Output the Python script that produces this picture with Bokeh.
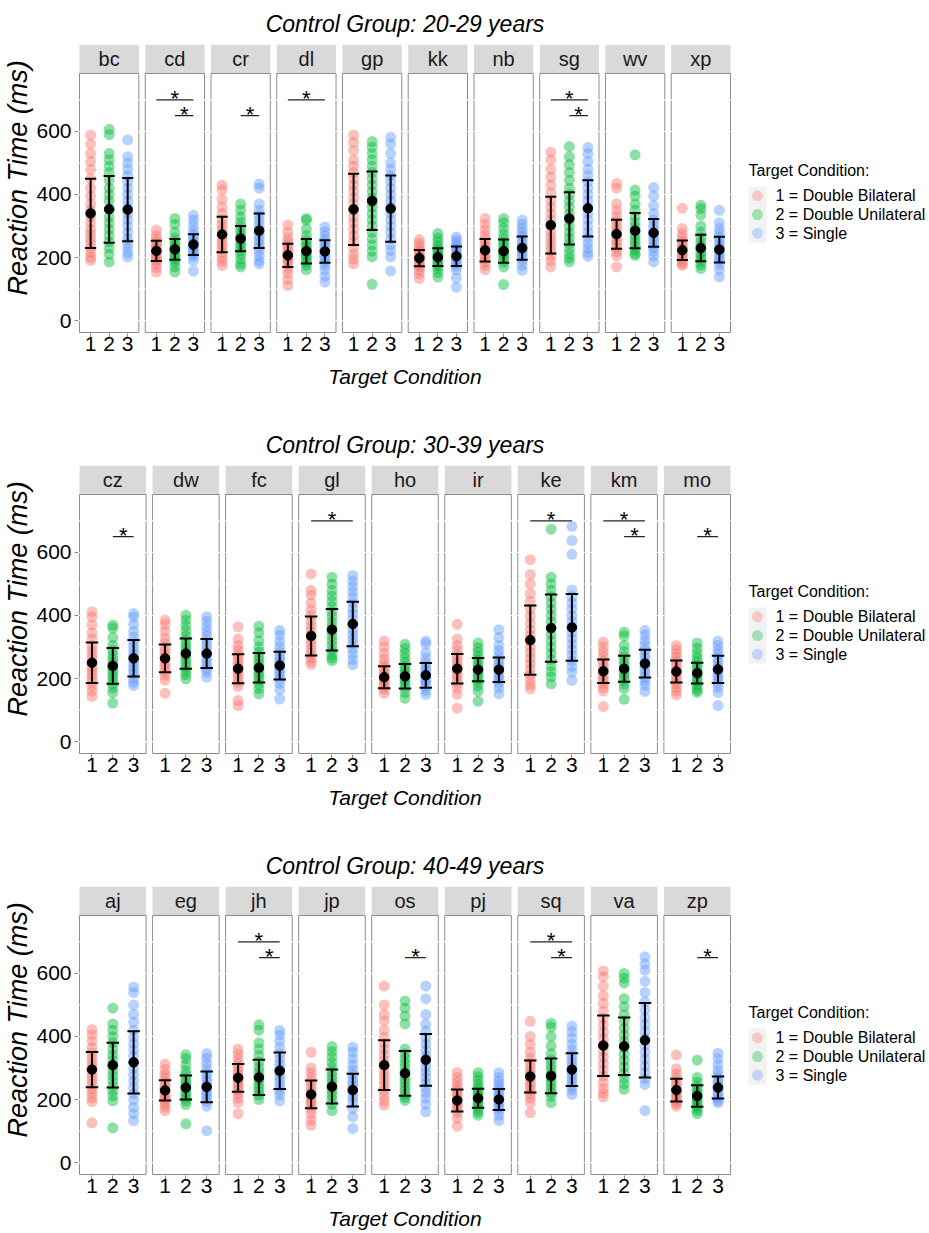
from bokeh.plotting import figure
from bokeh.layouts import column, row
from bokeh.models import Range1d, FixedTicker, CustomJSTickFormatter, Title
from bokeh.core.properties import value
from bokeh.embed import file_html
from bokeh.resources import INLINE

FONT = "Liberation Sans"
COND_COLORS = ["#F8766D", "#00BA38", "#619CFF"]
COND_LABELS = ["1 = Double Bilateral", "2 = Double Unilateral", "3 = Single"]
LEGEND_TITLE = "Target Condition:"
X_TITLE = "Target Condition"
Y_TITLE = "Reaction Time (ms)"
Y_TICKS = [0, 200, 400, 600]

# ---------------- 20-29 years ----------------
title_20s = "Control Group: 20-29 years"
facets_20s = ["bc", "cd", "cr", "dl", "gp", "kk", "nb", "sg", "wv", "xp"]
mean_20s = [[340, 353, 352], [221, 226, 241], [273, 260, 285], [207, 220, 219], [353, 380, 355],
            [198, 201, 204], [223, 220, 230], [303, 324, 356], [274, 285, 278], [223, 230, 225]]
sd_20s = [[110, 106, 100], [32, 33, 33], [56, 40, 55], [37, 39, 36], [113, 93, 105],
          [26, 28, 31], [36, 37, 37], [90, 83, 89], [46, 56, 44], [31, 42, 41]]
pts_20s = {
    "bc": [[589, 560, 530, 505, 480, 450, 420, 395, 370, 350, 330, 310, 290, 275, 260, 245, 230, 215, 200, 191],
           [607, 590, 530, 510, 490, 470, 445, 420, 400, 380, 355, 330, 310, 290, 270, 250, 230, 210, 186],
           [573, 520, 500, 480, 460, 440, 420, 400, 380, 360, 340, 320, 300, 280, 260, 245, 230, 215, 202]],
    "cd": [[287, 270, 258, 248, 240, 232, 225, 218, 212, 205, 198, 190, 180, 168, 154],
           [324, 305, 280, 262, 250, 240, 232, 225, 218, 210, 202, 194, 185, 170, 154],
           [334, 318, 300, 285, 272, 262, 252, 244, 236, 228, 220, 212, 204, 190, 157]],
    "cr": [[430, 415, 385, 360, 340, 320, 305, 290, 278, 265, 252, 240, 228, 215, 200, 188, 175],
           [370, 350, 330, 312, 298, 285, 272, 262, 252, 242, 232, 222, 210, 195, 180, 170],
           [433, 420, 370, 350, 335, 320, 305, 292, 280, 268, 256, 244, 232, 220, 205, 190, 180]],
    "dl": [[303, 280, 262, 250, 240, 230, 220, 212, 204, 196, 188, 178, 165, 150, 130, 111],
           [324, 318, 290, 270, 255, 245, 235, 226, 218, 210, 202, 194, 185, 175, 161],
           [297, 282, 268, 256, 246, 236, 228, 220, 212, 204, 196, 186, 175, 160, 140, 122]],
    "gp": [[589, 565, 540, 510, 490, 470, 450, 430, 410, 390, 370, 350, 330, 310, 290, 270, 250, 230, 210, 195, 180],
           [568, 550, 530, 510, 490, 470, 450, 430, 410, 390, 375, 360, 340, 320, 300, 280, 260, 240, 220, 202, 115],
           [582, 560, 530, 500, 480, 460, 440, 420, 400, 380, 360, 340, 320, 300, 280, 260, 240, 222, 202, 157]],
    "kk": [[257, 245, 235, 225, 218, 210, 204, 198, 192, 186, 178, 170, 160, 148, 133],
           [276, 262, 250, 238, 228, 220, 212, 205, 198, 190, 182, 174, 165, 152, 138],
           [265, 255, 245, 236, 228, 220, 212, 205, 198, 190, 182, 172, 160, 135, 106]],
    "nb": [[324, 305, 288, 272, 258, 246, 236, 228, 220, 212, 204, 196, 186, 175, 161],
           [324, 310, 292, 275, 260, 248, 238, 228, 220, 212, 204, 195, 185, 170, 114],
           [319, 305, 292, 280, 268, 256, 246, 236, 228, 220, 212, 202, 190, 175, 159]],
    "sg": [[534, 510, 480, 455, 430, 405, 380, 360, 340, 320, 300, 282, 265, 250, 235, 220, 205, 190, 170],
           [552, 520, 495, 470, 445, 420, 400, 380, 360, 340, 320, 300, 280, 262, 245, 228, 212, 198, 186],
           [549, 530, 505, 480, 460, 440, 420, 400, 380, 360, 340, 320, 300, 280, 262, 245, 230, 215, 204]],
    "wv": [[435, 420, 370, 350, 332, 316, 302, 290, 278, 266, 254, 242, 230, 218, 205, 170],
           [526, 414, 395, 370, 350, 330, 312, 298, 285, 272, 260, 248, 236, 224, 212, 207],
           [422, 395, 365, 340, 320, 305, 292, 280, 268, 256, 244, 232, 220, 205, 186]],
    "xp": [[356, 292, 275, 262, 250, 240, 232, 225, 218, 211, 204, 196, 188, 180, 175],
           [366, 355, 335, 300, 280, 264, 250, 238, 228, 218, 208, 198, 188, 176, 165],
           [350, 310, 292, 278, 264, 252, 240, 230, 220, 210, 200, 190, 178, 160, 138]],
}
sig_20s = [("cd", 1, 3, 700), ("cd", 2, 3, 650), ("cr", 2, 3, 650), ("dl", 1, 3, 700),
           ("sg", 1, 3, 700), ("sg", 2, 3, 650)]

# ---------------- 30-39 years ----------------
title_30s = "Control Group: 30-39 years"
facets_30s = ["cz", "dw", "fc", "gl", "ho", "ir", "ke", "km", "mo"]
mean_30s = [[250, 240, 264], [264, 279, 279], [231, 234, 241], [335, 355, 373], [204, 207, 210],
            [231, 228, 228], [322, 360, 362], [223, 231, 247], [222, 217, 229]]
sd_30s = [[64, 57, 58], [44, 48, 46], [46, 47, 44], [62, 66, 71], [35, 39, 39],
          [47, 37, 39], [110, 107, 106], [37, 41, 44], [35, 33, 43]]
pts_30s = {
    "cz": [[412, 395, 370, 345, 325, 305, 290, 276, 262, 250, 238, 226, 214, 202, 190, 175, 160, 143],
           [369, 360, 330, 305, 290, 275, 262, 250, 240, 230, 220, 208, 196, 184, 170, 155, 122],
           [406, 395, 372, 350, 332, 316, 302, 288, 275, 262, 250, 238, 226, 214, 200, 188, 178]],
    "dw": [[385, 372, 350, 328, 312, 298, 286, 275, 264, 254, 244, 234, 222, 210, 195, 153],
           [401, 385, 368, 352, 336, 322, 308, 296, 284, 272, 260, 248, 236, 224, 212, 199],
           [396, 382, 365, 350, 335, 320, 306, 293, 280, 268, 256, 244, 232, 220, 204]],
    "fc": [[364, 325, 305, 290, 276, 264, 252, 242, 232, 222, 212, 200, 188, 175, 130, 114],
           [366, 345, 320, 300, 284, 270, 258, 246, 236, 226, 216, 206, 195, 182, 168, 151],
           [353, 338, 318, 300, 285, 272, 260, 250, 240, 230, 220, 210, 198, 184, 165, 135]],
    "gl": [[532, 480, 465, 440, 418, 400, 382, 366, 350, 336, 322, 308, 294, 280, 266, 255, 245],
           [521, 500, 480, 462, 445, 428, 412, 396, 380, 365, 350, 335, 320, 305, 290, 276, 265, 257],
           [527, 510, 492, 475, 458, 440, 422, 405, 388, 372, 356, 340, 325, 310, 295, 278, 260, 244]],
    "ho": [[319, 300, 280, 262, 248, 236, 226, 216, 208, 200, 192, 184, 175, 165, 153],
           [309, 295, 280, 265, 252, 240, 230, 220, 210, 200, 192, 182, 170, 155, 137],
           [319, 310, 282, 265, 250, 238, 228, 218, 210, 202, 194, 185, 175, 162, 149]],
    "ir": [[372, 325, 305, 290, 275, 262, 250, 240, 230, 220, 210, 198, 185, 170, 150, 106],
           [313, 298, 285, 272, 260, 248, 238, 228, 218, 208, 198, 188, 176, 160, 128],
           [355, 330, 305, 288, 272, 258, 246, 236, 226, 216, 206, 196, 185, 170, 151]],
    "ke": [[577, 530, 500, 470, 445, 420, 398, 376, 355, 336, 318, 300, 282, 265, 248, 230, 212, 195, 180, 167],
           [674, 521, 500, 480, 460, 440, 420, 400, 380, 360, 340, 320, 300, 280, 260, 240, 222, 205, 183],
           [683, 638, 594, 481, 460, 440, 420, 400, 382, 364, 346, 328, 310, 292, 274, 256, 238, 220, 194]],
    "km": [[316, 300, 284, 270, 256, 244, 234, 224, 214, 204, 194, 184, 172, 160, 111],
           [347, 335, 305, 285, 270, 256, 244, 234, 224, 214, 204, 194, 182, 168, 134],
           [353, 338, 320, 305, 290, 276, 264, 252, 240, 228, 216, 204, 192, 178, 159]],
    "mo": [[305, 292, 280, 268, 256, 245, 234, 224, 214, 204, 194, 184, 172, 160, 148],
           [313, 296, 280, 266, 254, 242, 232, 222, 212, 202, 192, 182, 172, 162, 156],
           [319, 305, 290, 276, 262, 250, 238, 228, 218, 208, 198, 186, 172, 155, 114]],
}
sig_30s = [("cz", 2, 3, 650), ("gl", 1, 3, 700), ("ke", 1, 3, 700), ("km", 1, 3, 700),
           ("km", 2, 3, 650), ("mo", 2, 3, 650)]

# ---------------- 40-49 years ----------------
title_40s = "Control Group: 40-49 years"
facets_40s = ["aj", "eg", "jh", "jp", "os", "pj", "sq", "va", "zp"]
mean_40s = [[295, 309, 318], [229, 238, 240], [269, 270, 291], [216, 241, 230], [309, 283, 326],
            [197, 204, 200], [273, 275, 295], [371, 369, 388], [230, 211, 238]]
sd_40s = [[56, 71, 99], [32, 38, 49], [44, 56, 58], [44, 54, 52], [79, 71, 82],
          [35, 30, 33], [51, 55, 52], [96, 91, 118], [36, 34, 35]]
pts_40s = {
    "aj": [[422, 405, 385, 365, 348, 332, 318, 304, 290, 276, 262, 248, 234, 220, 206, 193, 126],
           [490, 440, 420, 400, 380, 360, 342, 325, 308, 292, 276, 260, 244, 228, 212, 196, 110],
           [557, 540, 500, 470, 445, 420, 398, 378, 358, 338, 318, 298, 278, 258, 238, 218, 198, 175, 155, 133]],
    "eg": [[312, 295, 280, 268, 256, 246, 236, 228, 220, 212, 204, 196, 186, 176, 165],
           [342, 330, 310, 292, 278, 266, 255, 245, 235, 225, 215, 205, 195, 184, 123],
           [346, 332, 315, 298, 284, 270, 258, 246, 236, 226, 216, 205, 194, 179, 101]],
    "jh": [[360, 345, 330, 315, 302, 290, 280, 270, 260, 250, 240, 230, 218, 205, 190, 155],
           [437, 420, 380, 360, 340, 320, 302, 288, 274, 262, 250, 238, 226, 214, 200],
           [419, 405, 385, 365, 345, 328, 312, 298, 284, 270, 256, 242, 228, 214, 195]],
    "jp": [[350, 300, 285, 270, 256, 244, 232, 222, 212, 202, 192, 182, 170, 155, 135, 118],
           [368, 352, 335, 318, 302, 288, 274, 262, 250, 238, 226, 214, 200, 185, 165],
           [366, 350, 330, 310, 294, 280, 266, 254, 242, 230, 218, 205, 190, 170, 145, 108]],
    "os": [[560, 500, 470, 450, 420, 398, 378, 360, 342, 325, 308, 292, 276, 260, 244, 228, 212, 196, 182],
           [513, 490, 465, 440, 360, 345, 330, 316, 302, 288, 276, 264, 252, 240, 228, 216, 206, 197],
           [560, 520, 470, 440, 418, 396, 376, 356, 338, 320, 302, 286, 270, 254, 238, 222, 205, 185, 161]],
    "pj": [[286, 270, 256, 244, 232, 222, 212, 204, 196, 188, 180, 170, 158, 140, 115],
           [285, 272, 260, 248, 238, 228, 220, 212, 204, 196, 188, 180, 170, 160, 150],
           [285, 270, 258, 246, 236, 226, 216, 208, 200, 192, 184, 175, 165, 150, 133]],
    "sq": [[448, 400, 375, 350, 332, 316, 302, 290, 278, 266, 254, 242, 230, 218, 205, 190, 158],
           [442, 430, 400, 370, 345, 325, 310, 296, 282, 270, 258, 246, 234, 222, 210, 190],
           [433, 415, 395, 375, 358, 342, 328, 315, 302, 290, 278, 266, 254, 242, 230, 216]],
    "va": [[608, 590, 560, 530, 505, 480, 458, 436, 414, 394, 374, 354, 334, 314, 294, 274, 254, 235, 220, 208],
           [600, 585, 570, 520, 495, 470, 448, 426, 404, 384, 364, 344, 324, 304, 284, 266, 250, 232],
           [653, 630, 610, 575, 540, 510, 485, 460, 438, 416, 394, 372, 350, 328, 306, 286, 266, 248, 165]],
    "zp": [[341, 298, 282, 268, 256, 245, 235, 226, 218, 210, 202, 194, 186, 179],
           [325, 270, 255, 242, 232, 222, 214, 206, 198, 190, 182, 174, 165, 155],
           [347, 330, 310, 292, 278, 266, 255, 245, 235, 225, 215, 205, 196, 190]],
}
sig_40s = [("jh", 1, 3, 700), ("jh", 2, 3, 650), ("os", 2, 3, 650), ("sq", 1, 3, 700),
           ("sq", 2, 3, 650), ("zp", 2, 3, 650)]

# ---------------- layout constants ----------------
FRAME_W = 653       # px, facets span 651 px plus 1 px padding each side
FRAME_H = 289       # strip (29 px) + panel (259 px) + 1 px padding
LEFT = 77
TOP = 44
GAP = 6.43
Y_LO, Y_HI = -38.0, 784.0       # panel y-limits (ggplot expansion)
UPX = (Y_HI - Y_LO) / 259.0      # data units per pixel
STRIP_TOP = Y_HI + 29 * UPX
LEG_W = 929 - LEFT - FRAME_W
BORDER_COL = "#8C8C8C"


def make_panel(title, facets, means, sds, pts, sigs, bottom):
    n = len(facets)
    w = (651 - (n - 1) * GAP) / n
    u = w / 3.2
    P = (w + GAP) / u

    p = figure(frame_width=FRAME_W, frame_height=FRAME_H,
               min_border_left=LEFT, min_border_right=0, min_border_top=TOP, min_border_bottom=bottom,
               x_range=Range1d(0.4 - 1 / u, 0.4 + 652 / u),
               y_range=Range1d(Y_LO - UPX, STRIP_TOP),
               output_backend="svg", toolbar_location=None)
    p.outline_line_color = None
    p.xgrid.visible = False
    p.ygrid.visible = False
    p.background_fill_color = "white"
    p.border_fill_color = "white"

    p.title.text = title
    p.title.align = "center"
    p.title.text_font = FONT
    p.title.text_font_size = "23px"
    p.title.text_font_style = "italic"
    p.title.text_color = "black"
    p.title.standoff = 15

    lefts = [k * P + 0.4 for k in range(n)]
    rights = [k * P + 3.6 for k in range(n)]
    centers = [k * P + 2 for k in range(n)]

    # panel borders
    p.quad(left=lefts, right=rights, bottom=Y_LO, top=Y_HI, fill_color=None,
           line_color=BORDER_COL, line_width=1)
    # white grid lines (visible as breaks in the border)
    gx0, gx1, gy = [], [], []
    for k in range(n):
        for g in range(0, 800, 100):
            gx0.append(lefts[k] - 0.05)
            gx1.append(rights[k] + 0.05)
            gy.append(g)
    p.segment(x0=gx0, x1=gx1, y0=gy, y1=gy, line_color="white", line_width=1.2)

    # strips
    p.quad(left=lefts, right=rights, bottom=Y_HI + UPX * 0.4, top=STRIP_TOP, fill_color="#D9D9D9", line_color=None)
    p.text(x=centers, y=[(Y_HI + STRIP_TOP) / 2] * n, text=facets, text_font=value(FONT),
           text_font_size="20px", text_color="#1A1A1A", text_align="center", text_baseline="middle")

    # points
    for c in range(3):
        xs, ys = [], []
        for k, f in enumerate(facets):
            for v in pts[f][c]:
                xs.append(k * P + c + 1)
                ys.append(v)
        p.scatter(x=xs, y=ys, size=11, fill_color=COND_COLORS[c], fill_alpha=0.45, line_color=None)

    # error bars and means
    mx, my, lo, hi = [], [], [], []
    for k in range(n):
        for c in range(3):
            mx.append(k * P + c + 1)
            my.append(means[k][c])
            lo.append(means[k][c] - sds[k][c])
            hi.append(means[k][c] + sds[k][c])
    cap = 0.3
    p.segment(x0=mx, x1=mx, y0=lo, y1=hi, line_color="black", line_width=2)
    p.segment(x0=[x - cap for x in mx], x1=[x + cap for x in mx], y0=lo, y1=lo, line_color="black", line_width=2)
    p.segment(x0=[x - cap for x in mx], x1=[x + cap for x in mx], y0=hi, y1=hi, line_color="black", line_width=2)
    p.scatter(x=mx, y=my, size=9.5, fill_color="black", line_color="black")

    # significance bars
    sx0, sx1, sy, smid = [], [], [], []
    for f, a, b, yv in sigs:
        k = facets.index(f)
        sx0.append(k * P + a)
        sx1.append(k * P + b)
        sy.append(yv)
        smid.append(k * P + (a + b) / 2)
    p.segment(x0=sx0, x1=sx1, y0=sy, y1=sy, line_color="#222222", line_width=1.2)
    p.text(x=smid, y=sy, text=["*"] * len(sy), text_font=value(FONT), text_font_size="22px",
           text_color="black", text_align="center", text_baseline="alphabetic", y_offset=-1)

    # axes
    xt = [k * P + c for k in range(n) for c in (1, 2, 3)]
    p.xaxis.ticker = FixedTicker(ticks=xt)
    p.xaxis.formatter = CustomJSTickFormatter(args=dict(P=P),
        code="const k = Math.floor(tick / P); return String(Math.round(tick - k * P));")
    p.yaxis.ticker = FixedTicker(ticks=Y_TICKS)
    for ax in (p.xaxis[0], p.yaxis[0]):
        ax.axis_line_color = None
        ax.major_tick_line_color = "#8C8C8C"
        ax.major_tick_out = 4
        ax.major_tick_in = 0
        ax.minor_tick_line_color = None
        ax.major_label_text_font = FONT
        ax.major_label_text_font_size = "21px"
        ax.major_label_text_color = "black"
    p.yaxis.major_label_standoff = 3
    p.xaxis.major_label_standoff = -1
    p.xaxis.axis_label = X_TITLE
    p.xaxis.axis_label_text_font = FONT
    p.xaxis.axis_label_text_font_size = "21px"
    p.xaxis.axis_label_text_font_style = "italic"
    p.xaxis.axis_label_text_color = "black"
    p.xaxis.axis_label_standoff = 11

    yt = Title(text=Y_TITLE, align="left", offset=38, text_font=FONT, text_font_size="27px",
               text_font_style="italic", text_color="black", standoff=1)
    p.add_layout(yt, "left")

    # legend (drawn in its own frame to the right; coordinates are page pixels within the row)
    lg = figure(frame_width=LEG_W, frame_height=FRAME_H,
                min_border_left=0, min_border_right=0, min_border_top=TOP, min_border_bottom=bottom,
                x_range=Range1d(0, LEG_W), y_range=Range1d(TOP + FRAME_H, TOP),
                output_backend="svg", toolbar_location=None)
    lg.axis.visible = False
    lg.xgrid.visible = False
    lg.ygrid.visible = False
    lg.outline_line_color = None
    key_x0 = 747 - LEFT - FRAME_W
    key_w = 18
    row_h = 18.7
    key_top = 186
    lg.quad(left=key_x0, right=key_x0 + key_w, top=key_top, bottom=key_top + 3 * row_h,
            fill_color="#F2F2F2", line_color=None)
    rows_y = [key_top + (i + 0.5) * row_h for i in range(3)]
    lg.scatter(x=[key_x0 + key_w / 2] * 3, y=rows_y, size=11, fill_color=COND_COLORS,
               fill_alpha=0.33, line_color=None)
    lg.text(x=[key_x0 + key_w + 9] * 3, y=rows_y, text=COND_LABELS, text_font=value(FONT),
            text_font_size="16px", text_color="black", text_align="left", text_baseline="middle")
    lg.text(x=[key_x0], y=[170], text=[LEGEND_TITLE], text_font=value(FONT),
            text_font_size="16px", text_color="black", text_align="left", text_baseline="middle")
    return row(p, lg)


r1 = make_panel(title_20s, facets_20s, mean_20s, sd_20s, pts_20s, sig_20s, 88)
r2 = make_panel(title_30s, facets_30s, mean_30s, sd_30s, pts_30s, sig_30s, 88)
r3 = make_panel(title_40s, facets_40s, mean_40s, sd_40s, pts_40s, sig_40s, 58)
page = column(r1, r2, r3)

open("out.html", "w").write(file_html(page, INLINE))
